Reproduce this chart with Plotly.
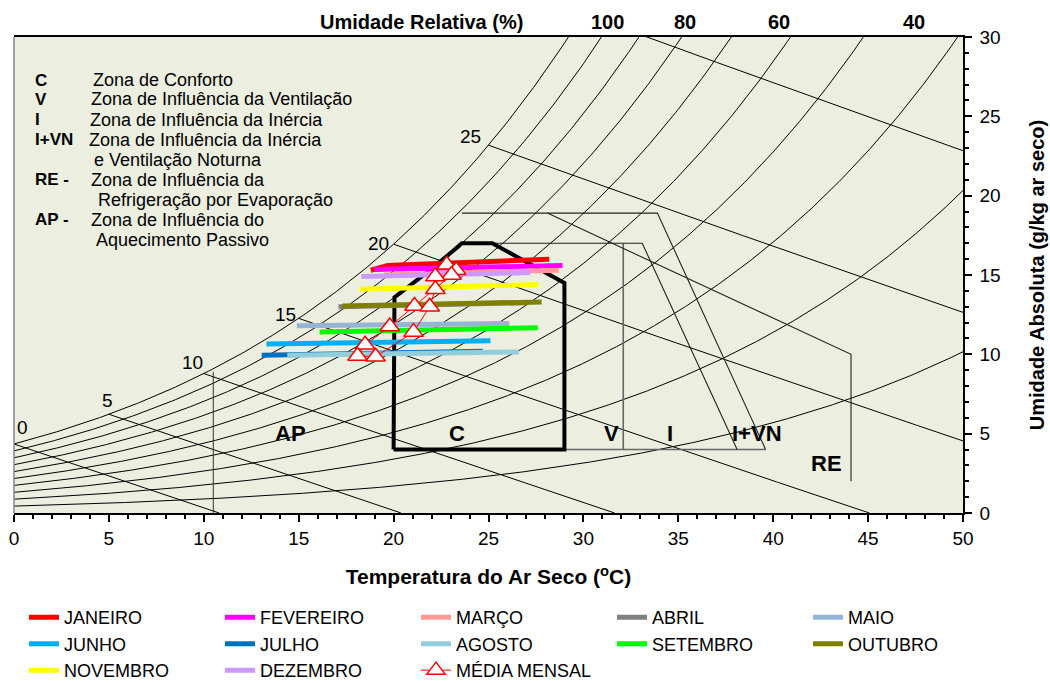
import numpy as np
import plotly.graph_objects as go

# ---------------------------------------------------------------- grid settings
P_ATM = 88.0                      # kPa, local barometric pressure
RH_LEVELS = [100, 90, 80, 70, 60, 50, 40, 30, 20, 10]
WB_LEVELS = [0, 5, 10, 15, 20, 25, 30]

# ---------------------------------------------------------------- monthly data
MONTHS = ["JANEIRO", "FEVEREIRO", "MARÇO", "ABRIL", "MAIO", "JUNHO",
          "JULHO", "AGOSTO", "SETEMBRO", "OUTUBRO", "NOVEMBRO", "DEZEMBRO"]
MONTH_COLORS = ["#FF0000", "#FF00FF", "#FF9999", "#808080", "#95B3D7", "#00B0F0",
                "#0070C0", "#92CDDC", "#00FF00", "#808000", "#FFFF00", "#CC99FF"]
MONTH_TEMP = [
    [18.8, 19.7, 28.2],   # JANEIRO
    [19.0, 24.0, 28.9],   # FEVEREIRO
    [19.5, 24.0, 28.7],   # MARÇO
    [17.1, 27.0],         # ABRIL
    [14.9, 26.1],         # MAIO
    [13.3, 25.1],         # JUNHO
    [13.05, 24.7],        # JULHO
    [14.4, 26.6],         # AGOSTO
    [16.1, 27.6],         # SETEMBRO
    [17.3, 27.8],         # OUTUBRO
    [18.2, 27.6],         # NOVEMBRO
    [18.3, 27.2],         # DEZEMBRO
]
MONTH_HUM = [
    [15.3, 15.6, 16.0],
    [15.35, 15.45, 15.6],
    [15.0, 15.15, 15.3],
    [13.0, 13.25],
    [11.8, 11.95],
    [10.65, 10.85],
    [9.95, 10.2],
    [9.95, 10.15],
    [11.4, 11.68],
    [13.05, 13.3],
    [14.1, 14.4],
    [14.9, 15.15],
]
MEAN_TEMP = [22.8, 23.3, 23.05, 21.1, 19.8, 18.5, 18.1, 19.05, 21.05, 21.9, 22.2, 22.2]
MEAN_HUM = [15.65, 15.3, 15.0, 13.05, 11.75, 10.6, 9.9, 9.85, 11.4, 13.0, 14.1, 14.9]

# ---------------------------------------------------------------- zone limits
COMFORT_T_MIN, COMFORT_T_MAX = 20.0, 29.0
COMFORT_W_MIN, COMFORT_W_MAX = 4.0, 17.0
COMFORT_RH_MAX = 80
COMFORT_CORNER_T = [25.2, 29.0]
COMFORT_CORNER_W = [17.0, 14.5]

ZONE_LINES = {  # name: (temperatures, humidities, color, width)
    "AP": ([10.5, 10.5], [0.0, 8.9], "#333333", 1),
    "V": ([32.1, 32.1], [4.0, 17.0], "#666666", 1.6),
    "base": ([29.0, 39.6], [4.0, 4.0], "#666666", 1.6),
    "I": ([25.2, 33.1, 38.1], [17.0, 17.0, 4.0], "#222222", 1.1),
    "IVN": ([23.6, 33.9, 39.6], [18.9, 18.9, 4.0], "#222222", 1.1),
    "RE": ([28.1, 44.1, 44.1], [18.9, 10.0, 2.0], "#222222", 1.1),
}

ZONE_TAGS = ["AP", "C", "V", "I", "I+VN", "RE"]
ZONE_TAG_T = [14.55, 23.35, 31.5, 34.55, 39.15, 42.8]
ZONE_TAG_W = [5.0, 5.0, 5.0, 5.0, 5.0, 3.1]

WB_TAGS = ["0", "5", "10", "15", "20", "25"]
WB_TAG_T = [0.05, 4.9, 9.4, 14.3, 19.2, 24.05]
WB_TAG_W = [5.4, 7.1, 9.5, 12.5, 17.0, 23.7]

RH_TAGS = ["100", "80", "60", "40"]
RH_TAG_T = [31.25, 35.35, 40.3, 47.4]

KEY_CODES = ["C", "V", "I", "I+VN", "", "RE -", "", "AP -", ""]
KEY_TEXTS = ["Zona de Conforto", "Zona de Influência da Ventilação",
             "Zona de Influência da Inércia", "Zona de Influência da Inércia",
             "e Ventilação Noturna", "Zona de Influência da",
             "Refrigeração por Evaporação", "Zona de Influência do",
             "Aquecimento Passivo"]


# ---------------------------------------------------------------- psychrometrics
def p_sat(t):
    return 0.61094 * np.exp(17.625 * t / (t + 243.04))


def w_sat(t):
    ps = p_sat(t)
    return 622.0 * ps / (P_ATM - ps)


def w_wetbulb(t, twb):
    ws = w_sat(twb) / 1000.0
    return 1000.0 * ((2501 - 2.326 * twb) * ws - 1.006 * (t - twb)) / (2501 + 1.86 * t - 4.186 * twb)


fig = go.Figure()
grid_line = dict(color="black", width=1)

# relative humidity curves
t_grid = np.linspace(0, 50, 401)
for rh in RH_LEVELS:
    w = rh / 100.0 * w_sat(t_grid)
    keep = w <= 31
    fig.add_trace(go.Scatter(x=t_grid[keep], y=w[keep], mode="lines", line=grid_line,
                             hoverinfo="skip", showlegend=False))

# wet-bulb lines
for twb in WB_LEVELS:
    t_line = np.linspace(twb, 50, 300)
    w = w_wetbulb(t_line, twb)
    keep = w >= 0
    tt, ww = list(t_line[keep]), list(w[keep])
    if not keep.all():
        i = np.argmax(~keep)
        t0, t1, w0, w1 = t_line[i - 1], t_line[i], w[i - 1], w[i]
        tt.append(t0 + (t1 - t0) * w0 / (w0 - w1))
        ww.append(0.0)
    fig.add_trace(go.Scatter(x=tt, y=ww, mode="lines", line=grid_line,
                             hoverinfo="skip", showlegend=False))

# strategy zone boundaries
for name, (zt, zw, col, lw) in ZONE_LINES.items():
    fig.add_trace(go.Scatter(x=zt, y=zw, mode="lines", line=dict(color=col, width=lw),
                             hoverinfo="skip", showlegend=False))

# comfort zone (bold polygon, upper-left side follows the RH limit curve)
t_fine = np.linspace(COMFORT_T_MIN, 26, 400)
w_rh = COMFORT_RH_MAX / 100.0 * w_sat(t_fine)
edge = w_rh <= COMFORT_W_MAX
ct = [COMFORT_T_MIN] + list(t_fine[edge]) + COMFORT_CORNER_T + [COMFORT_T_MAX, COMFORT_T_MIN, COMFORT_T_MIN]
cw = [COMFORT_W_MIN] + list(w_rh[edge]) + COMFORT_CORNER_W + [COMFORT_W_MIN, COMFORT_W_MIN, COMFORT_W_MIN]
fig.add_trace(go.Scatter(x=ct, y=cw, mode="lines", line=dict(color="black", width=4),
                         hoverinfo="skip", showlegend=False))

# monthly climate lines
for name, col, tt, ww in zip(MONTHS, MONTH_COLORS, MONTH_TEMP, MONTH_HUM):
    fig.add_trace(go.Scatter(x=tt, y=ww, mode="lines", name=name,
                             line=dict(color=col, width=5)))

# monthly averages
fig.add_trace(go.Scatter(x=MEAN_TEMP, y=MEAN_HUM, mode="lines+markers", name="MÉDIA MENSAL",
                         line=dict(color="red", width=1),
                         marker=dict(symbol="triangle-up", size=17, color="white",
                                     line=dict(color="red", width=1.5))))

# ---------------------------------------------------------------- text
L, R, T, B = 14, 963, 37, 513


def px_x(px):
    return (px - L) / (R - L)


def px_y(py):
    return (B - py) / (B - T)


ann = []
for tag, x, y in zip(ZONE_TAGS, ZONE_TAG_T, ZONE_TAG_W):
    ann.append(dict(x=x, y=y, xref="x", yref="y", text=f"<b>{tag}</b>", showarrow=False,
                    xanchor="center", yanchor="middle", font=dict(size=22, color="black")))
for tag, x, y in zip(WB_TAGS, WB_TAG_T, WB_TAG_W):
    ann.append(dict(x=x, y=y, xref="x", yref="y", text=tag, showarrow=False,
                    xanchor="left" if tag == "0" else "center", yanchor="middle",
                    font=dict(size=19, color="black")))
ann.append(dict(x=px_x(421), y=px_y(22), xref="paper", yref="paper", showarrow=False,
                xanchor="center", yanchor="middle",
                text="<b>Umidade Relativa (%)</b>", font=dict(size=20, color="black")))
for tag, x in zip(RH_TAGS, RH_TAG_T):
    ann.append(dict(x=x, y=px_y(22), xref="x", yref="paper", showarrow=False,
                    xanchor="center", yanchor="middle",
                    text=f"<b>{tag}</b>", font=dict(size=20, color="black")))

key_rows_y = [80, 99.5, 119.5, 139.5, 159.5, 179.5, 200, 219.5, 239.5]
key_text_x = [91, 89, 88, 87, 92, 89, 96, 89, 94]
for code, txt, py, tx in zip(KEY_CODES, KEY_TEXTS, key_rows_y, key_text_x):
    if code:
        ann.append(dict(x=px_x(33), y=px_y(py), xref="paper", yref="paper", showarrow=False,
                        xanchor="left", yanchor="middle", text=f"<b>{code}</b>",
                        font=dict(size=17, color="black")))
    ann.append(dict(x=px_x(tx), y=px_y(py), xref="paper", yref="paper", showarrow=False,
                    xanchor="left", yanchor="middle", text=txt, font=dict(size=18, color="black")))

fig.update_layout(
    width=1050, height=683,
    margin=dict(l=L, r=1050 - R, t=T, b=683 - B, autoexpand=False),
    paper_bgcolor="white", plot_bgcolor="#ECEEDF",
    font=dict(family="Liberation Sans, Arial, sans-serif", color="black"),
    annotations=ann,
    shapes=[dict(type="line", xref="paper", yref="paper", x0=0, x1=0, y0=0, y1=1,
                 line=dict(color="#888888", width=1.5), layer="above")],
    legend=dict(orientation="h", x=1.0432, xanchor="right", y=-0.181, yanchor="top",
                font=dict(size=18, color="black"), entrywidth=151, itemwidth=30,
                bgcolor="rgba(0,0,0,0)", traceorder="normal"),
    xaxis=dict(range=[0, 50], dtick=5, tick0=0, ticks="outside", ticklen=7, tickwidth=1.5,
               tickcolor="black", showline=True, linecolor="black", linewidth=2, mirror=True,
               showgrid=False, zeroline=False, tickfont=dict(size=19),
               minor=dict(dtick=1, ticks="outside", ticklen=4, tickcolor="black", showgrid=False),
               title=dict(text="<b>Temperatura do Ar Seco (<sup>o</sup>C)</b>",
                          font=dict(size=21), standoff=22)),
    yaxis=dict(range=[0, 30], dtick=5, tick0=0, side="right", ticks="outside", ticklen=7,
               tickwidth=1.5, tickcolor="black", showline=True, linecolor="black", linewidth=1.5,
               showgrid=False, zeroline=False, tickfont=dict(size=19), ticklabelstandoff=4,
               minor=dict(dtick=1, ticks="outside", ticklen=4, tickcolor="black", showgrid=False),
               title=dict(text="<b>Umidade Absoluta (g/kg ar seco)</b>",
                          font=dict(size=20), standoff=30)),
)

fig.write_html("out.html")
